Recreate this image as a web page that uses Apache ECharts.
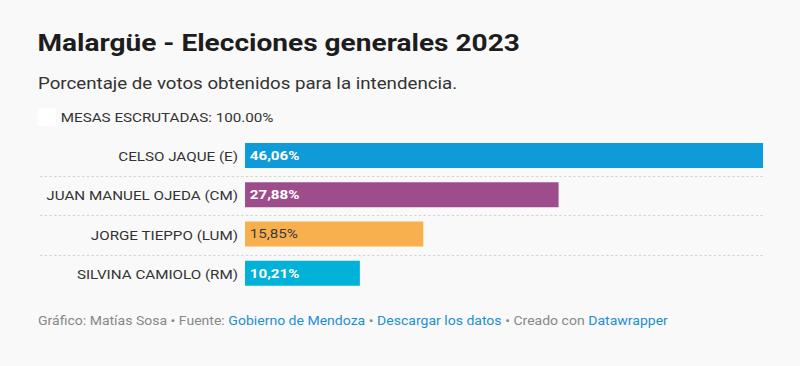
<!DOCTYPE html>
<html><head><meta charset="utf-8">
<script src="https://cdn.jsdelivr.net/npm/echarts@6/dist/echarts.min.js"></script>
<style>
html,body{margin:0;padding:0;background:#f9f9f9;overflow:hidden}
#wrap{width:800px;height:366px;overflow:hidden}
#c{width:684px;height:366px;transform:scaleX(1.169591);transform-origin:0 0}
</style>
</head><body><div id="wrap"><div id="c"></div></div>
<script>
const categories = ["CELSO JAQUE (E)", "JUAN MANUEL OJEDA (CM)", "JORGE TIEPPO (LUM)", "SILVINA CAMIOLO (RM)"];
const values = [46.06, 27.88, 15.85, 10.21];
const barColors = ["#0f9bd7", "#9d4d8b", "#f8b04f", "#00b1d8"];
const labelColors = ["#ffffff", "#ffffff", "#3a3a3a", "#ffffff"];
const labelWeights = ["bold", "bold", "normal", "bold"];
const legendLabel = "MESAS ESCRUTADAS: 100.00%";

const chart = echarts.init(document.getElementById('c'), null, { renderer: 'svg' });
const font = 'Roboto, "Noto Sans", sans-serif';
chart.setOption({
  backgroundColor: '#f9f9f9',
  animation: false,
  textStyle: { fontFamily: font },
  title: [
    { text: 'Malargüe - Elecciones generales 2023', left: 32, top: 31, padding: 0,
      textStyle: { fontFamily: font, fontSize: 24, fontWeight: 'bold', color: '#1d1d1d' } },
    { text: 'Porcentaje de votos obtenidos para la intendencia.', left: 32.5, top: 75, padding: 0,
      textStyle: { fontFamily: font, fontSize: 16, fontWeight: 'normal', color: '#333' } },
    { text: '{g|Gráfico: Matías Sosa • Fuente: }{b|Gobierno de Mendoza}{g| • }{b|Descargar los datos}{g| • Creado con }{b|Datawrapper}',
      left: 32.5, top: 315, padding: 0,
      textStyle: { fontFamily: font, fontSize: 12, fontWeight: 'normal',
        rich: { g: { color: '#888', fontSize: 12, fontFamily: font }, b: { color: '#1d8fd3', fontSize: 12, fontFamily: font } } } }
  ],
  legend: {
    left: 32, top: 108, itemWidth: 16, itemHeight: 18, itemGap: 4, padding: 0,
    icon: 'rect', selectedMode: false,
    data: [{ name: legendLabel, itemStyle: { color: '#ffffff' } }],
    textStyle: { fontFamily: font, fontSize: 13, color: '#333', padding: [0, 0, 0, -1] }
  },
  grid: [
    { left: 209.5, right: 31.6, top: 137, height: 157 },
    { left: 34.2, right: 31.6, top: 137, height: 157 }
  ],
  xAxis: [
    { type: 'value', gridIndex: 0, min: 0, max: 46.06, show: false },
    { type: 'value', gridIndex: 1, min: 0, max: 1, show: false }
  ],
  yAxis: [
    { type: 'category', gridIndex: 0, data: categories, inverse: true,
      axisLine: { show: false }, axisTick: { show: false }, splitLine: { show: false },
      axisLabel: { fontFamily: font, fontSize: 13, color: '#333', margin: 6 } },
    { type: 'category', gridIndex: 1, data: categories, inverse: true,
      axisLine: { show: false }, axisTick: { show: false }, axisLabel: { show: false },
      splitLine: { show: true, showMinLine: false, showMaxLine: false,
        lineStyle: { color: '#d4d4d4', width: 1, type: [2, 2] } } }
  ],
  series: [
    { type: 'bar', xAxisIndex: 0, yAxisIndex: 0, barWidth: 25,
      data: values.map((v, i) => ({ value: v, itemStyle: { color: barColors[i] },
        label: { color: labelColors[i], fontWeight: labelWeights[i] } })),
      label: { show: true, position: 'insideLeft', distance: 4, fontFamily: font,
        fontSize: 13, fontWeight: 'bold',
        formatter: p => p.value.toFixed(2).replace('.', ',') + '%' } },
    { type: 'bar', name: legendLabel, xAxisIndex: 0, yAxisIndex: 0, data: [], itemStyle: { color: '#ffffff' } }
  ]
});
</script></body></html>
